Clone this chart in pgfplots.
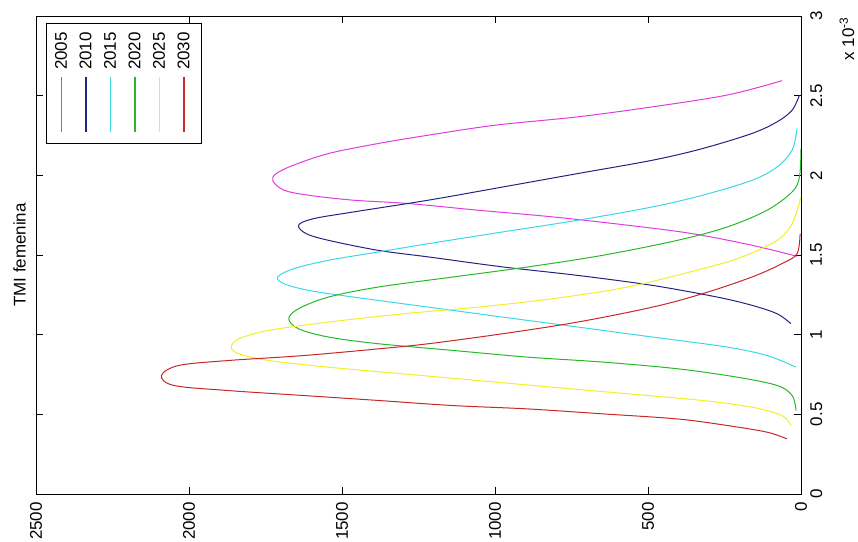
\documentclass[border=0pt]{standalone}
\usepackage{pgfplots}
\pgfplotsset{compat=1.18}
\usepackage{fontspec}
\setmainfont{Liberation Sans}
\definecolor{cM}{RGB}{225,60,225}
\definecolor{cB}{RGB}{35,35,130}
\definecolor{cC}{RGB}{60,215,230}
\definecolor{cG}{RGB}{40,185,40}
\definecolor{cY}{RGB}{240,240,40}
\definecolor{cR}{RGB}{200,40,40}
\newcommand{\legitem}[3]{%
  \draw[draw=#2, line width=1.3bp] (25.5bp+#1*24.5bp,-61bp) -- (25.5bp+#1*24.5bp,-116bp);
  \node[rotate=90, anchor=east, inner sep=0pt, font=\fontsize{17}{20}\selectfont] at (25bp+#1*24.5bp,-16bp) {#3};}
\begin{document}
\begin{tikzpicture}
\begin{axis}[
  scale only axis, width=765bp, height=478bp,
  x filter/.expression={-x},
  xmin=-2500, xmax=0, ymin=0, ymax=3,
  xtick={-2500,-2000,-1500,-1000,-500,0},
  xticklabels={2500,2000,1500,1000,500,0},
  ytick={0,0.5,1,1.5,2,2.5,3},
  yticklabels={0,0.5,1,1.5,2,2.5,3},
  yticklabel pos=right,
  tick align=inside, major tick length=7bp,
  every tick/.style={black, line width=0.6bp},
  axis line style={line width=0.8bp},
  font=\fontsize{17}{20}\selectfont,
  xticklabel style={rotate=90, anchor=east, inner sep=0pt},
  yticklabel style={rotate=90, anchor=north, inner sep=0pt},
  xticklabel shift=8bp, yticklabel shift=9bp,
  /pgf/number format/assume math mode=true,
  every axis plot/.append style={line width=1bp, smooth, tension=0.55},
]
\addplot[cM] coordinates {(13,1.492)(160,1.561)(355,1.634)(567,1.687)(811,1.739)(1055,1.781)(1283,1.823)(1463,1.844)(1609,1.875)(1690,1.907)(1726,1.965)(1715,2.011)(1658,2.064)(1544,2.137)(1381,2.200)(1218,2.252)(998,2.315)(730,2.367)(485,2.430)(241,2.504)(62,2.594)};
\addplot[cB] coordinates {(33,1.069)(78,1.131)(160,1.184)(274,1.236)(485,1.309)(730,1.372)(974,1.425)(1218,1.488)(1381,1.529)(1544,1.592)(1617,1.634)(1642,1.687)(1593,1.728)(1463,1.770)(1218,1.844)(974,1.927)(730,2.011)(485,2.095)(322,2.168)(160,2.263)(78,2.336)(29,2.409)(5,2.504)};
\addplot[cC] coordinates {(16,0.796)(111,0.869)(241,0.922)(485,0.985)(730,1.048)(974,1.110)(1218,1.173)(1463,1.236)(1609,1.278)(1690,1.320)(1710,1.362)(1658,1.414)(1544,1.467)(1381,1.519)(1218,1.571)(974,1.645)(730,1.718)(485,1.802)(322,1.875)(160,1.969)(78,2.053)(29,2.158)(13,2.294)};
\addplot[cG] coordinates {(16,0.524)(29,0.618)(78,0.681)(208,0.733)(404,0.786)(648,0.828)(893,0.859)(1137,0.901)(1381,0.943)(1544,0.985)(1642,1.037)(1674,1.100)(1642,1.163)(1544,1.236)(1381,1.299)(1137,1.362)(893,1.425)(648,1.498)(404,1.592)(241,1.676)(111,1.781)(29,1.896)(5,1.990)(0,2.168)};
\addplot[cY] coordinates {(33,0.430)(62,0.492)(160,0.545)(322,0.587)(567,0.629)(811,0.670)(1055,0.712)(1300,0.754)(1544,0.796)(1739,0.838)(1837,0.880)(1862,0.922)(1837,0.974)(1739,1.027)(1544,1.079)(1300,1.131)(1055,1.173)(811,1.226)(567,1.299)(322,1.414)(192,1.488)(78,1.592)(29,1.697)(0,1.865)};
\addplot[cR] coordinates {(46,0.346)(111,0.388)(241,0.430)(404,0.471)(648,0.503)(893,0.534)(1137,0.555)(1381,0.587)(1625,0.618)(1870,0.649)(2049,0.681)(2090,0.744)(2033,0.807)(1870,0.838)(1625,0.869)(1381,0.911)(1218,0.943)(974,1.006)(730,1.079)(485,1.173)(322,1.257)(160,1.362)(62,1.446)(13,1.508)(3,1.634)};
\end{axis}
\node[rotate=90, anchor=south, inner sep=0pt, font=\fontsize{17}{20}\selectfont] at ([xshift=-10bp]current axis.west) {TMI femenina};
\node[rotate=90, anchor=east, inner sep=0pt, font=\fontsize{17}{20}\selectfont] at ([xshift=46bp,yshift=-1bp]current axis.north east) {x 10\textsuperscript{-3}};
% legend
\begin{scope}[shift={(current axis.north west)}]
  \draw[black, line width=0.8bp, fill=white] (10bp,-7bp) rectangle (165bp,-127bp);
  \legitem{0}{cM}{2005}
  \legitem{1}{cB}{2010}
  \legitem{2}{cC}{2015}
  \legitem{3}{cG}{2020}
  \legitem{4}{cY}{2025}
  \legitem{5}{cR}{2030}
\end{scope}
\pgfresetboundingbox
\useasboundingbox ([xshift=-36bp,yshift=-48bp]current axis.south west) rectangle ([xshift=57bp,yshift=16bp]current axis.north east);
\end{tikzpicture}
\end{document}
